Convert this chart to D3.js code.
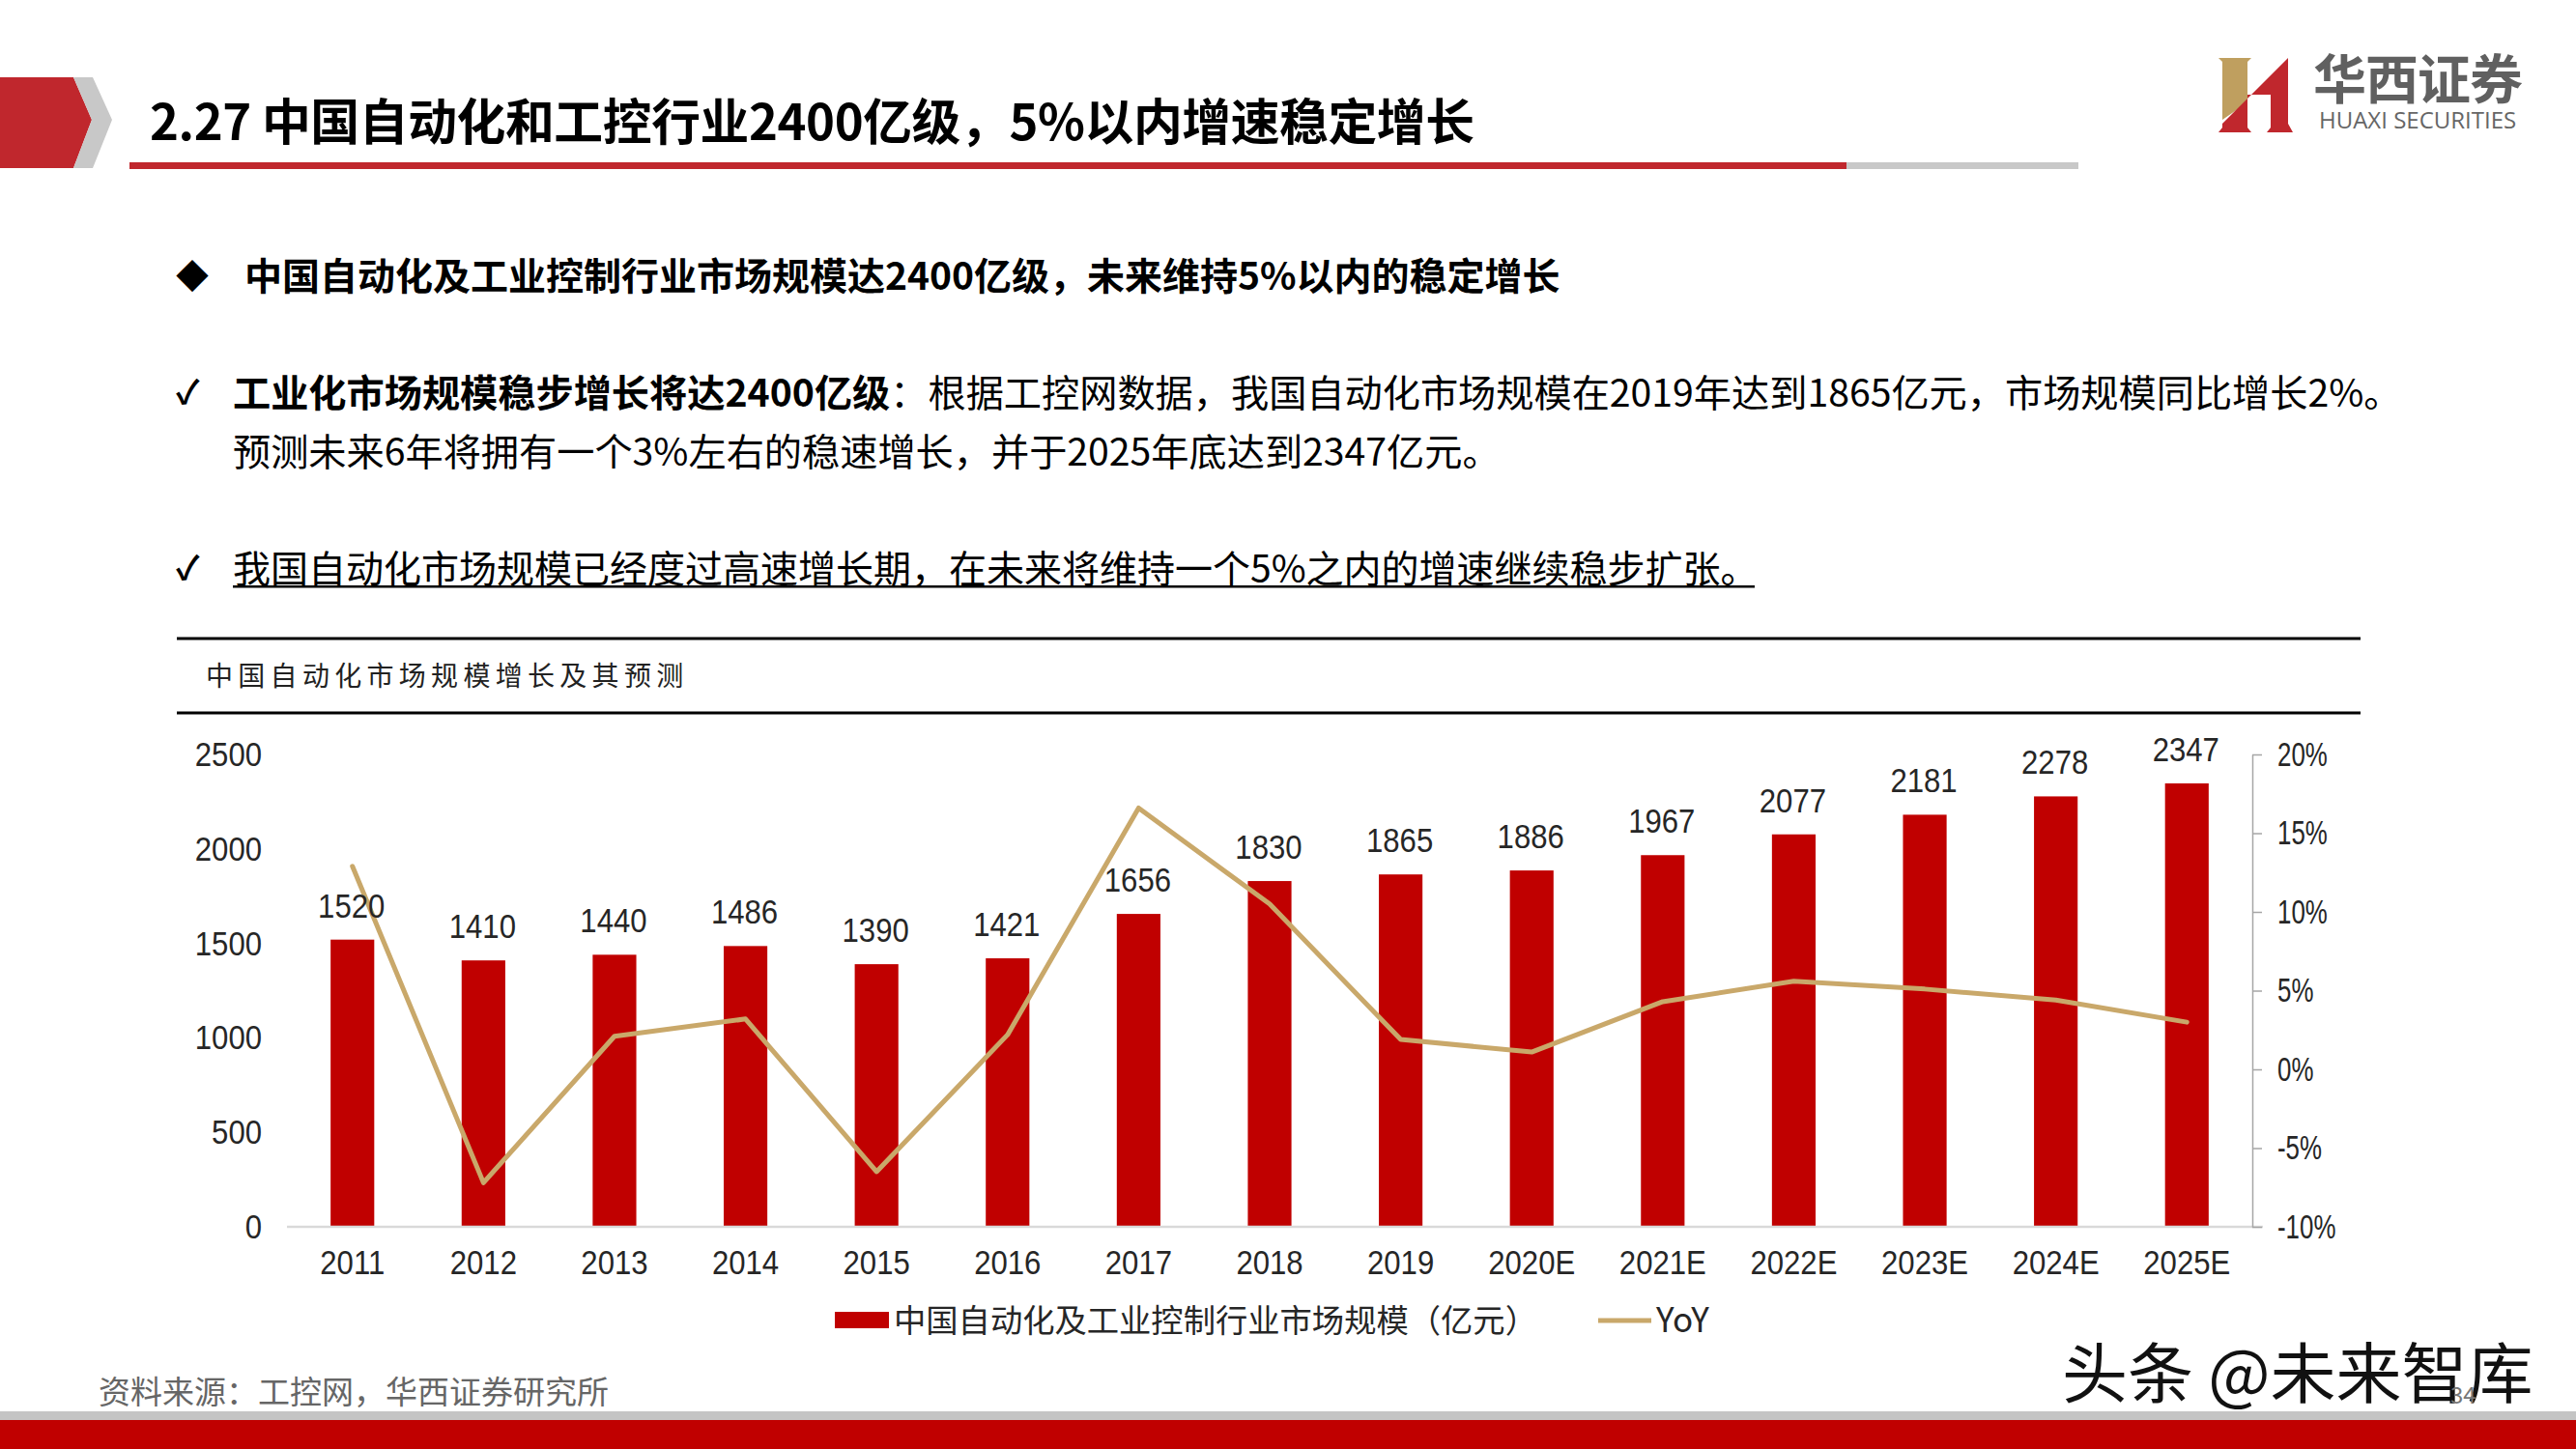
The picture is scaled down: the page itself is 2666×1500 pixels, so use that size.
<!DOCTYPE html>
<html><head><meta charset="utf-8">
<script src="https://cdn.jsdelivr.net/npm/d3@7"></script>
<style>html,body{margin:0;padding:0;background:#fff}svg{display:block}
text{font-family:"Noto Sans CJK SC","Noto Sans",sans-serif}
.num text,text.num{font-family:"Liberation Sans",sans-serif}
</style></head><body><svg id="c" width="2666" height="1500"></svg>
<script>
const categories=["2011","2012","2013","2014","2015","2016","2017","2018","2019","2020E","2021E","2022E","2023E","2024E","2025E"];
const marketSize=[1520,1410,1440,1486,1390,1421,1656,1830,1865,1886,1967,2077,2181,2278,2347];
const yoy=[12.9,-7.2,2.1,3.2,-6.5,2.2,16.6,10.5,1.9,1.1,4.3,5.6,5.1,4.4,3.0];
const leftTicks=[0,500,1000,1500,2000,2500];
const rightTicks=[-10,-5,0,5,10,15,20];
const seriesNames=["中国自动化及工业控制行业市场规模（亿元）","YoY"];
const pageTitle="2.27 中国自动化和工控行业2400亿级，5%以内增速稳定增长";
const headline="中国自动化及工业控制行业市场规模达2400亿级，未来维持5%以内的稳定增长";
const p1Bold="工业化市场规模稳步增长将达2400亿级";
const p1Rest="：根据工控网数据，我国自动化市场规模在2019年达到1865亿元，市场规模同比增长2%。";
const p1Line2="预测未来6年将拥有一个3%左右的稳速增长，并于2025年底达到2347亿元。";
const p2="我国自动化市场规模已经度过高速增长期，在未来将维持一个5%之内的增速继续稳步扩张。";
const chartTitle="中国自动化市场规模增长及其预测";
const sourceText="资料来源：工控网，华西证券研究所";
const RED="#c00000",GOLD="#c9a86a",INK="#262626";
const svg=d3.select("#c");
const poly=(pts,fill)=>svg.append("polygon").attr("points",pts).attr("fill",fill);
const txt=(x,y,s,size,opt={})=>svg.append("text").attr("x",x).attr("y",y).attr("font-size",size)
  .attr("font-weight",opt.w||400).attr("fill",opt.fill||"#000").attr("text-anchor",opt.a||"start")
  .attr("letter-spacing",opt.ls||null).text(s);
// horizontally condense labels about their own anchor point
const condense=(sel,k)=>sel.each(function(){
  const t=d3.select(this),ax=+t.attr("x")||0;
  t.attr("transform",`translate(${ax},0) scale(${k},1) translate(${-ax},0)`);
});

// Header
poly("0,80 76,80 95,124 76,174 0,174","#c0272d");
poly("76,80 96,80 116,124 96,174 76,174 95,124","#c8c8c8");
txt(155,145,pageTitle,50.8,{w:700,ls:-0.4});
svg.append("rect").attr("x",134).attr("y",168).attr("width",1777).attr("height",7).attr("fill","#c0272d");
svg.append("rect").attr("x",1911).attr("y",168).attr("width",240).attr("height",7).attr("fill","#c8c8c8");

// Logo
poly("2296,60 2330,60 2326,64 2326,106 2300,124 2300,64","#bf9f5f");
poly("2300,128 2368,60 2368,128 2373,137 2346,137 2350,132 2350,98 2326,98 2326,132 2330,137 2296,137 2300,132","#c0272d");
txt(2394,102,"华西证券",55,{w:700,fill:"#606060",ls:-1});
svg.append("text").attr("x",2400).attr("y",133).attr("font-size",24).attr("font-weight",500).attr("fill","#666").style("font-family","'Open Sans'").text("HUAXI SECURITIES");

// Text block
txt(182,299,"◆",34,{});
txt(253,300,headline,39,{w:700});
txt(182,418,"✓",34,{w:700});
const l1=txt(241,421,p1Bold,39.2,{w:700});
l1.append("tspan").attr("font-weight",400).text(p1Rest);
txt(241,482,p1Line2,39.2);
txt(182,600,"✓",34,{w:700});
txt(241,603,p2,39);
svg.append("rect").attr("x",241).attr("y",606).attr("width",1575).attr("height",2.5).attr("fill","#000");

// Table rules
[[661],[738]].forEach(([y])=>svg.append("rect").attr("x",183).attr("y",y-1.5).attr("width",2260).attr("height",3).attr("fill","#000"));
txt(213,710,chartTitle,28,{ls:5.3,fill:"#222"});

// Scales
const x=d3.scaleBand().domain(categories).range([297,2331]).paddingInner(0.667).paddingOuter(0.333);
const y0=1270,y1=781;
const yL=d3.scaleLinear().domain([0,2500]).range([y0,y1]);
const yR=d3.scaleLinear().domain([-10,20]).range([y0,y1]);

// Bars
svg.append("g").selectAll("rect").data(categories).join("rect")
  .attr("x",d=>x(d)).attr("width",x.bandwidth())
  .attr("y",(d,i)=>yL(marketSize[i])).attr("height",(d,i)=>y0-yL(marketSize[i])).attr("fill",RED);

// Axes
const axL=svg.append("g").attr("class","num").attr("transform","translate(297,0)")
  .call(d3.axisLeft(yL).tickValues(leftTicks).tickSize(0).tickPadding(26).tickFormat(d=>String(d)));
axL.select(".domain").remove();
axL.selectAll("text").attr("font-size",36).attr("fill",INK).call(condense,0.865);
const axB=svg.append("g").attr("class","num").attr("transform",`translate(0,${y0})`)
  .call(d3.axisBottom(x).tickSize(0).tickPadding(23));
axB.select(".domain").attr("d","M297,0H2342").attr("stroke","#d9d9d9").attr("stroke-width",2.5);
axB.selectAll("text").attr("font-size",36).attr("fill",INK).call(condense,0.865);
const axR=svg.append("g").attr("class","num").attr("transform","translate(2331,0)")
  .call(d3.axisRight(yR).tickValues(rightTicks).tickSize(10).tickSizeOuter(0).tickPadding(16).tickFormat(d=>d+"%"));
axR.select(".domain").attr("stroke","#a6a6a6").attr("stroke-width",1.5);
axR.selectAll("line").attr("stroke","#a6a6a6").attr("stroke-width",1.5);
axR.selectAll("text").attr("font-size",35).attr("fill",INK).call(condense,0.74);

// Line
const line=d3.line().x((d,i)=>x(categories[i])+x.bandwidth()/2).y(d=>yR(d));
svg.append("path").datum(yoy).attr("d",line).attr("fill","none").attr("stroke",GOLD)
  .attr("stroke-width",5).attr("stroke-linecap","round").attr("stroke-linejoin","round");

// Value labels
svg.append("g").attr("class","num").selectAll("text").data(categories).join("text")
  .attr("x",d=>x(d)+x.bandwidth()/2-1).attr("y",(d,i)=>yL(marketSize[i])-23)
  .attr("text-anchor","middle").attr("font-size",36).attr("fill",INK).text((d,i)=>marketSize[i])
  .call(condense,0.865);

// Legend
svg.append("rect").attr("x",864).attr("y",1358).attr("width",56).attr("height",17).attr("fill",RED);
txt(925,1379,seriesNames[0],33.3,{fill:INK});
svg.append("line").attr("x1",1654).attr("x2",1709).attr("y1",1367).attr("y2",1367).attr("stroke",GOLD).attr("stroke-width",5);
txt(1714,1379,seriesNames[1],35,{fill:INK});

// Footer
txt(102,1453,sourceText,33,{fill:"#666"});
svg.append("rect").attr("x",0).attr("y",1461).attr("width",2666).attr("height",9).attr("fill","#c4c4c4");
svg.append("rect").attr("x",0).attr("y",1470).attr("width",2666).attr("height",30).attr("fill",RED);
txt(2134,1447,"头条 @未来智库",68,{fill:"#111"});
txt(2536,1453,"34",24,{fill:"#777"});
</script></body></html>
